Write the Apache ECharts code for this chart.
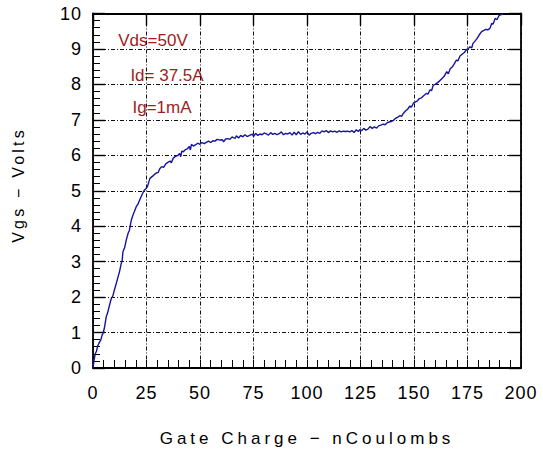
<!DOCTYPE html>
<html>
<head>
<meta charset="utf-8">
<script src="https://cdn.jsdelivr.net/npm/echarts@6/dist/echarts.min.js"></script>
<style>
  html, body { margin: 0; padding: 0; background: #fff; }
  #chart { width: 543px; height: 453px; }
</style>
</head>
<body>
<div id="chart"></div>
<script>
// Gate charge curve: Vgs (V) against gate charge (nC)
const chargeNC = [
  0, 0.5, 1.1, 1.6, 2.2, 3.1, 3.6, 4.2, 4.7, 5.3, 6.2, 6.8, 7.5, 8.6, 9.2, 10.1,
  10.9, 11.6, 12.4, 13.2, 13.6, 14.0, 14.8, 15.6, 16.4, 17.0, 17.9, 18.6, 19.4,
  20.2, 21.0, 21.8, 23.0, 23.8, 24.6, 25.4, 26.6, 28, 29.5, 30.5, 31.2, 32.1, 33,
  34, 35, 36, 36.6, 37.5, 38.5, 39.5, 40.5, 41, 41.5, 42.2, 43, 44, 45, 45.5, 46,
  46.9, 48, 49, 50, 51, 52, 53.1, 54, 55, 56, 57, 58, 59.3, 60.5, 61, 62, 63, 64,
  65, 65.6, 66.5, 67, 68, 69, 70, 71, 72, 73.4, 74.5, 75, 76, 77, 78, 79, 80, 81.2,
  82, 83, 84, 85, 86, 87, 88, 89, 90, 91, 92, 93, 94, 95, 96, 97, 98, 99, 100, 101,
  102, 103, 104, 105, 106, 107, 108, 109, 110, 111, 112, 113, 114, 115, 116, 117,
  118, 119, 120, 121, 122, 123, 124, 124.8, 125.5, 126.5, 127.5, 128.5, 129.4,
  130.5, 131.5, 132.5, 133.5, 134.5, 135.7, 136.5, 137.5, 138.5, 139.5, 140.3,
  141.5, 142.5, 143.5, 144.2, 145, 146, 147, 148.1, 148.8, 149.7, 150.5, 151.5,
  152.5, 153.5, 154.5, 155.9, 156.5, 157.5, 158.2, 159, 160, 161, 162, 163, 164,
  165.3, 166, 167, 168, 168.8, 169.9, 170.5, 171.5, 172.5, 173.5, 174.5, 175.5,
  176.2, 177, 177.5, 178.5, 179.5, 180.5, 181.6, 182.5, 183.5, 184.5, 185.5, 186.3,
  187, 187.9, 188.8, 189.8, 190.8, 191.7
];
const vgsVolts = [
  0, 0.22, 0.41, 0.47, 0.62, 0.74, 0.78, 0.92, 0.98, 1.12, 1.45, 1.55, 1.72, 1.97,
  2.02, 2.22, 2.39, 2.55, 2.72, 2.95, 3.02, 3.28, 3.40, 3.62, 3.80, 3.88, 4.17,
  4.30, 4.42, 4.55, 4.62, 4.74, 4.90, 5.00, 5.05, 5.11, 5.35, 5.42, 5.50, 5.52,
  5.62, 5.68, 5.66, 5.76, 5.80, 5.84, 5.79, 5.92, 5.97, 5.99, 6.05, 5.96, 6.12,
  6.10, 6.15, 6.18, 6.25, 6.15, 6.31, 6.26, 6.30, 6.34, 6.31, 6.36, 6.33, 6.37,
  6.40, 6.36, 6.41, 6.40, 6.45, 6.43, 6.44, 6.38, 6.46, 6.47, 6.45, 6.52, 6.50,
  6.48, 6.55, 6.49, 6.56, 6.52, 6.58, 6.53, 6.57, 6.60, 6.53, 6.62, 6.56, 6.60,
  6.58, 6.63, 6.60, 6.57, 6.64, 6.59, 6.62, 6.58, 6.61, 6.66, 6.58, 6.62, 6.60,
  6.64, 6.57, 6.65, 6.58, 6.67, 6.59, 6.63, 6.60, 6.66, 6.57, 6.62, 6.64, 6.61,
  6.65, 6.62, 6.69, 6.66, 6.70, 6.64, 6.69, 6.66, 6.68, 6.65, 6.69, 6.66, 6.68,
  6.67, 6.68, 6.66, 6.70, 6.64, 6.72, 6.67, 6.73, 6.69, 6.76, 6.71, 6.74, 6.81,
  6.76, 6.80, 6.77, 6.83, 6.85, 6.88, 6.86, 6.92, 6.94, 6.96, 6.98, 7.05, 7.08,
  7.12, 7.10, 7.18, 7.25, 7.30, 7.39, 7.36, 7.47, 7.50, 7.53, 7.60, 7.62, 7.68,
  7.75, 7.72, 7.85, 7.82, 7.98, 8.00, 8.05, 8.10, 8.16, 8.22, 8.36, 8.30, 8.45,
  8.50, 8.58, 8.69, 8.66, 8.80, 8.85, 8.90, 8.98, 9.02, 9.06, 9.03, 9.15, 9.22,
  9.30, 9.40, 9.49, 9.52, 9.55, 9.54, 9.58, 9.72, 9.70, 9.86, 9.83, 9.95, 9.97, 10.0
];

// Axis ranges and labels
const xRange = [0, 200];
const xStep = 25;
const yRange = [0, 10];
const yStep = 1;
const xTitle = 'Gate Charge \u2212 nCoulombs';
const yTitle = 'Vgs \u2212 Volts';
const testConditions = ['Vds=50V', 'Id= 37.5A', 'Ig=1mA'];

const FONT = '"Liberation Sans", Arial, sans-serif';
const gridDash = { color: '#111', width: 1, type: [4, 2, 1, 2] };
const frame = { show: true, onZero: false, lineStyle: { color: '#000', width: 1.8 } };

const chart = echarts.init(document.getElementById('chart'), null, { renderer: 'svg' });

const annoColor = '#a11d1d';
const annoPos = [[153, 40], [167, 75], [162, 107]];

chart.setOption({
  animation: false,
  backgroundColor: '#fff',
  grid: { left: 93, right: 22, top: 13.5, bottom: 85, containLabel: false },
  xAxis: [
    {
      type: 'value', position: 'bottom', min: xRange[0], max: xRange[1], interval: xStep,
      axisLine: frame,
      axisTick: { show: true, inside: true, length: 8, lineStyle: { color: '#000', width: 1 } },
      minorTick: { show: true, splitNumber: 5, length: 8, lineStyle: { color: '#000', width: 1 } },
      splitLine: { show: true, lineStyle: gridDash },
      axisLabel: { fontSize: 18, color: '#000', margin: 16, fontFamily: FONT }
    },
    {
      type: 'value', position: 'top', min: xRange[0], max: xRange[1], interval: xStep,
      axisLine: frame,
      axisTick: { show: true, inside: true, length: 12, lineStyle: { color: '#000', width: 1.4 } },
      splitLine: { show: false },
      axisLabel: { show: false }
    }
  ],
  yAxis: [
    {
      type: 'value', position: 'left', min: yRange[0], max: yRange[1], interval: yStep,
      axisLine: frame,
      axisTick: { show: true, inside: true, length: 12, lineStyle: { color: '#000', width: 1.4 } },
      minorTick: { show: true, splitNumber: 5, length: 7, lineStyle: { color: '#000', width: 1 } },
      splitLine: { show: true, lineStyle: gridDash },
      axisLabel: { fontSize: 18, color: '#000', margin: 11, fontFamily: FONT }
    },
    {
      type: 'value', position: 'right', min: yRange[0], max: yRange[1], interval: yStep,
      axisLine: frame,
      axisTick: { show: true, inside: true, length: 12, lineStyle: { color: '#000', width: 1.4 } },
      splitLine: { show: false },
      axisLabel: { show: false }
    }
  ],
  series: [{
    type: 'line',
    xAxisIndex: 0,
    yAxisIndex: 0,
    data: chargeNC.map((q, i) => [q, vgsVolts[i]]),
    showSymbol: false,
    clip: true,
    lineStyle: { color: '#1414a0', width: 1.4 },
    z: 5
  }],
  graphic: [
    {
      type: 'text', x: 307, y: 438,
      style: { text: xTitle, font: '17px ' + FONT, fill: '#000', align: 'center', verticalAlign: 'middle' }
    },
    {
      type: 'text', x: 18, y: 185, rotation: Math.PI / 2,
      style: { text: yTitle, font: '16px ' + FONT, fill: '#000', align: 'center', verticalAlign: 'middle' }
    }
  ].concat(testConditions.map((t, i) => ({
    type: 'text', x: annoPos[i][0], y: annoPos[i][1],
    style: { text: t, font: '17px ' + FONT, fill: annoColor, align: 'center', verticalAlign: 'middle' }
  })))
});

// Wide letter spacing for the plotter-style axis titles
const spacing = { [xTitle]: '4px', [yTitle]: '3.2px' };
document.querySelectorAll('#chart text').forEach(el => {
  const s = spacing[el.textContent];
  if (s) el.style.letterSpacing = s;
  else if (/^\d+$/.test(el.textContent)) el.style.letterSpacing = '1px';
});
</script>
</body>
</html>
